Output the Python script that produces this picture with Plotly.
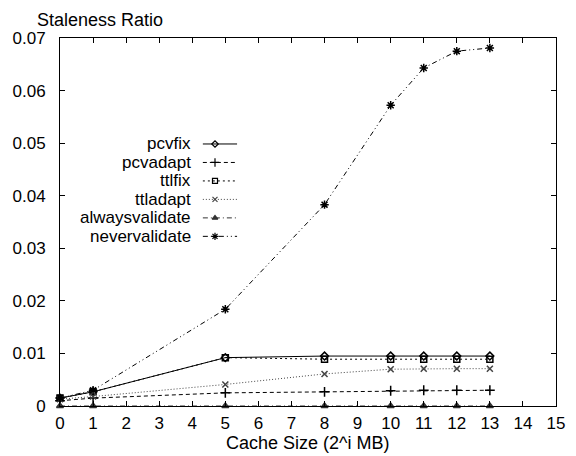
import plotly.graph_objects as go

# cache size exponent i (size = 2^i MB)
cache_size = [0, 1, 5, 8, 10, 11, 12, 13]

pcvfix = [0.0015, 0.0027, 0.0092, 0.0095, 0.0095, 0.0095, 0.0095, 0.0095]
pcvadapt = [0.0010, 0.0015, 0.0025, 0.0027, 0.0029, 0.0030, 0.0030, 0.0030]
ttlfix = [0.0015, 0.0027, 0.0092, 0.0089, 0.0089, 0.0089, 0.0089, 0.0089]
ttladapt = [0.0013, 0.0018, 0.0041, 0.0061, 0.0070, 0.0071, 0.0071, 0.0071]
alwaysvalidate = [0, 0, 0, 0, 0, 0, 0, 0]
nevervalidate = [0.0015, 0.0030, 0.0184, 0.0383, 0.0572, 0.0643, 0.0675, 0.0681]

series = [
    ('pcvfix', pcvfix, 'solid', 'diamond-open', 6, 'black'),
    ('pcvadapt', pcvadapt, '4px,3px', 'cross-thin-open', 7, 'black'),
    ('ttlfix', ttlfix, '2px,3px', 'square-open', 6, 'black'),
    ('ttladapt', ttladapt, '1px,2px', 'x-thin-open', 6, '#444444'),
    ('alwaysvalidate', alwaysvalidate, '5px,3px,1px,3px', 'triangle-up', 6, '#333333'),
    ('nevervalidate', nevervalidate, '5px,3px,1px,3px,1px,3px', 'asterisk-open', 7, 'black'),
]

FONT = 'Liberation Sans, Arial, sans-serif'

fig = go.Figure()

for name, vals, dash, sym, size, color in series:
    fig.add_trace(go.Scatter(
        x=cache_size, y=vals, name=name, mode='lines+markers',
        line=dict(color=color, width=1, dash=dash),
        marker=dict(symbol=sym, size=size, color=color, line=dict(color=color, width=1.5)),
        cliponaxis=False, showlegend=False,
    ))

# gnuplot-style key: label on the left, line sample on the right
key_x0, key_x1, key_mark, key_top, key_step = 0.288, 0.357, 0.3125, 0.712, 0.0502
for i, (name, vals, dash, sym, size, color) in enumerate(series):
    ky = key_top - i * key_step
    fig.add_trace(go.Scatter(
        x=[key_x0, key_x1], y=[ky, ky], mode='lines', xaxis='x2', yaxis='y2',
        line=dict(color=color, width=1, dash=dash), showlegend=False, hoverinfo='skip',
    ))
    fig.add_trace(go.Scatter(
        x=[key_mark], y=[ky], mode='markers', xaxis='x2', yaxis='y2',
        marker=dict(symbol=sym, size=size - 1, color=color, line=dict(color=color, width=1.2)),
        showlegend=False, hoverinfo='skip',
    ))
    fig.add_annotation(
        text=name, xref='paper', yref='paper', x=0.268, y=ky,
        xanchor='right', yanchor='middle', showarrow=False,
        font=dict(family=FONT, size=17, color='black'),
    )

fig.add_annotation(
    text='Staleness Ratio', xref='paper', yref='paper', x=-0.05, y=1.05,
    xanchor='left', yanchor='middle', showarrow=False,
    font=dict(family=FONT, size=18, color='black'),
)
fig.add_annotation(
    text='Cache Size (2^i MB)', xref='paper', yref='paper', x=0.5, y=-0.1,
    xanchor='center', yanchor='middle', showarrow=False,
    font=dict(family=FONT, size=18, color='black'),
)

axis_common = dict(
    showgrid=False, zeroline=False, showline=True, linecolor='black', linewidth=1,
    mirror='ticks', ticks='inside', ticklen=5, tickcolor='black',
    tickfont=dict(family=FONT, size=17, color='black'),
)

fig.update_layout(
    width=576, height=456,
    margin=dict(l=60, r=20, t=38, b=50),
    paper_bgcolor='white', plot_bgcolor='white',
    xaxis=dict(range=[0, 15], dtick=1, tick0=0, ticklabelstandoff=2, **axis_common),
    yaxis=dict(range=[0, 0.07], dtick=0.01, tick0=0, ticklabelstandoff=10, **axis_common),
    xaxis2=dict(overlaying='x', range=[0, 1], visible=False),
    yaxis2=dict(overlaying='y', range=[0, 1], visible=False),
)

fig.write_html('out.html', config={'displayModeBar': False},
               post_script="document.body.style.margin='0';")
